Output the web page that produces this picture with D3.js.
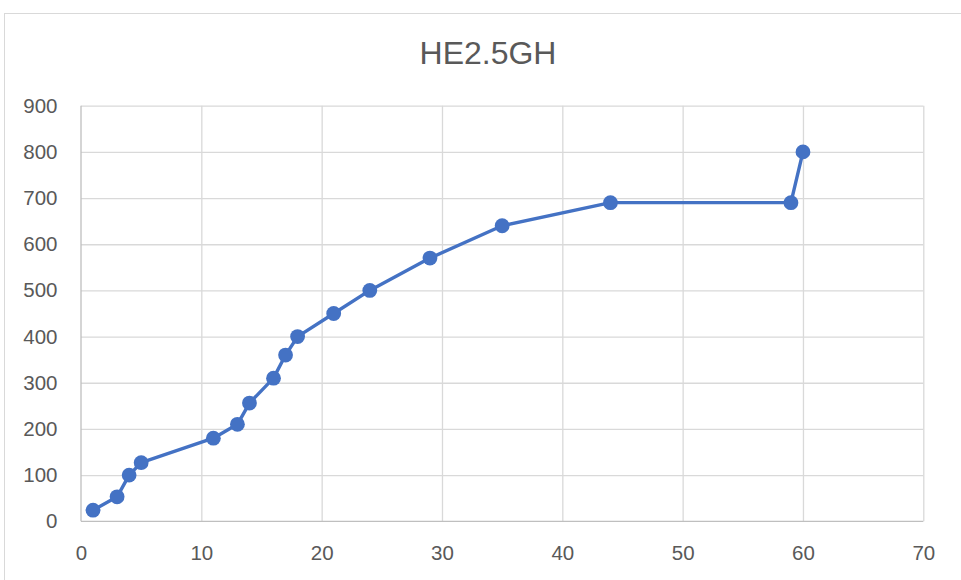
<!DOCTYPE html>
<html>
<head>
<meta charset="utf-8">
<script src="https://cdn.jsdelivr.net/npm/d3@7"></script>
<style>
  body { margin: 0; background: #fff; }
  svg { display: block; font-family: "Liberation Sans", Arial, sans-serif; }
</style>
</head>
<body>
<div id="chart-container"></div>
<script>
// Données
const title = "HE2.5GH";
const xValues = [1, 3, 4, 5, 11, 13, 14, 16, 17, 18, 21, 24, 29, 35, 44, 59, 60];
const yValues = [24, 53, 100, 127, 180, 210, 256, 310, 360, 400, 450, 500, 570, 640, 690, 690, 800];
const xTicks = [0, 10, 20, 30, 40, 50, 60, 70];
const yTicks = [0, 100, 200, 300, 400, 500, 600, 700, 800, 900];

function drawChart() {
    const width = 961, height = 580;
    const plot = { left: 81, right: 923.3, top: 105.7, bottom: 521.3 };

    const svg = d3.select("#chart-container")
        .append("svg")
        .attr("width", width)
        .attr("height", height);

    // Cadre du graphique
    svg.append("rect")
        .attr("x", 4.5).attr("y", 13.5)
        .attr("width", 970).attr("height", 600)
        .attr("fill", "#fff")
        .attr("stroke", "#d9d9d9")
        .attr("stroke-width", 1);

    // Titre
    svg.append("text")
        .attr("x", 488).attr("y", 64)
        .attr("text-anchor", "middle")
        .attr("font-size", 32)
        .attr("fill", "#595959")
        .text(title);

    // Echelles
    const xScale = d3.scaleLinear().domain([0, 70]).range([plot.left, plot.right]);
    const yScale = d3.scaleLinear().domain([0, 900]).range([plot.bottom, plot.top]);

    // Grille verticale
    svg.append("g")
        .attr("transform", "translate(0," + plot.bottom + ")")
        .call(d3.axisBottom(xScale).tickValues(xTicks.slice(1)).tickSize(-(plot.bottom - plot.top)).tickFormat(""))
        .call(g => g.select(".domain").remove())
        .call(g => g.selectAll("line").attr("stroke", "#d9d9d9").attr("stroke-width", 1.3));

    // Grille horizontale
    svg.append("g")
        .attr("transform", "translate(" + plot.left + ",0)")
        .call(d3.axisLeft(yScale).tickValues(yTicks.slice(1)).tickSize(-(plot.right - plot.left)).tickFormat(""))
        .call(g => g.select(".domain").remove())
        .call(g => g.selectAll("line").attr("stroke", "#d9d9d9").attr("stroke-width", 1.3));

    // Axes
    svg.append("line")
        .attr("x1", plot.left).attr("x2", plot.left)
        .attr("y1", plot.top).attr("y2", plot.bottom)
        .attr("stroke", "#bfbfbf").attr("stroke-width", 1.3);
    svg.append("line")
        .attr("x1", plot.left).attr("x2", plot.right)
        .attr("y1", plot.bottom).attr("y2", plot.bottom)
        .attr("stroke", "#bfbfbf").attr("stroke-width", 1.3);

    // Etiquettes des axes
    const xAxis = svg.append("g")
        .attr("transform", "translate(0," + plot.bottom + ")")
        .call(d3.axisBottom(xScale).tickValues(xTicks).tickSize(0).tickPadding(24));
    xAxis.select(".domain").remove();
    xAxis.selectAll("text")
        .attr("font-size", 20.5)
        .attr("font-family", "Liberation Sans, Arial, sans-serif")
        .attr("fill", "#595959");

    const yAxis = svg.append("g")
        .attr("transform", "translate(" + plot.left + ",0)")
        .call(d3.axisLeft(yScale).tickValues(yTicks).tickSize(0).tickPadding(23.5));
    yAxis.select(".domain").remove();
    yAxis.selectAll("text")
        .attr("font-size", 20.5)
        .attr("font-family", "Liberation Sans, Arial, sans-serif")
        .attr("fill", "#595959");

    // Données
    const data = xValues.map((x, i) => ({ x: x, y: yValues[i] }));

    const line = d3.line()
        .x(d => xScale(d.x))
        .y(d => yScale(d.y));

    svg.append("path")
        .datum(data)
        .attr("fill", "none")
        .attr("stroke", "#4472C4")
        .attr("stroke-width", 3.4)
        .attr("stroke-linejoin", "round")
        .attr("d", line);

    svg.selectAll(".dot")
        .data(data)
        .enter().append("circle")
        .attr("class", "dot")
        .attr("cx", d => xScale(d.x))
        .attr("cy", d => yScale(d.y))
        .attr("r", 7.4)
        .attr("fill", "#4472C4");
}

document.addEventListener("DOMContentLoaded", drawChart);
</script>
</body>
</html>
